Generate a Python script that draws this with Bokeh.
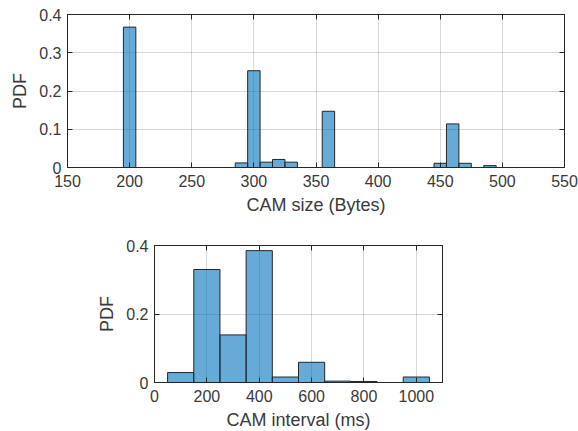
from bokeh.plotting import figure
from bokeh.layouts import column, row
from bokeh.models import LinearAxis, FixedTicker, Range1d
from bokeh.embed import file_html
from bokeh.resources import INLINE

# ---- data: CAM size histogram (bin width 10 bytes) ----
size_centers = [200, 290, 300, 310, 320, 330, 360, 450, 460, 470, 490]
size_pdf = [0.367, 0.012, 0.253, 0.014, 0.021, 0.014, 0.147, 0.011, 0.114, 0.011, 0.005]
size_bin_width = 10
size_xticks = [150, 200, 250, 300, 350, 400, 450, 500, 550]
size_yticks = [0, 0.1, 0.2, 0.3, 0.4]

# ---- data: CAM interval histogram (bin width 100 ms) ----
interval_centers = [100, 200, 300, 400, 500, 600, 700, 800, 900, 1000]
interval_pdf = [0.029, 0.330, 0.139, 0.385, 0.016, 0.059, 0.004, 0.003, 0.0, 0.016]
interval_bin_width = 100
interval_xticks = [0, 200, 400, 600, 800, 1000]
interval_yticks = [0, 0.2, 0.4]

FONT = "Liberation Sans"
TXT = "#3a3a3a"
AX = "#262626"
FILL = "#0072BD"
EDGE = "#262626"


def style(p, xticks, yticks, xlabel, ylabel, yfmt):
    p.xaxis.ticker = FixedTicker(ticks=xticks)
    p.yaxis.ticker = FixedTicker(ticks=yticks)
    p.yaxis.major_label_overrides = yfmt
    p.xaxis.axis_label = xlabel
    p.yaxis.axis_label = ylabel
    for ax in (p.xaxis[0], p.yaxis[0]):
        ax.axis_label_text_font = FONT
        ax.axis_label_text_font_size = "18px"
        ax.axis_label_text_font_style = "normal"
        ax.axis_label_text_color = TXT
        ax.major_label_text_font = FONT
        ax.major_label_text_font_size = "16px"
        ax.major_label_text_color = TXT
        ax.axis_line_color = AX
        ax.major_tick_line_color = AX
        ax.major_tick_in = 5
        ax.major_tick_out = 0
        ax.minor_tick_line_color = None
    p.xaxis.major_label_standoff = 7
    p.xaxis.axis_label_standoff = 5
    p.yaxis.major_label_standoff = 6
    p.yaxis.axis_label_standoff = 6
    # box ticks on top / right
    top = LinearAxis(ticker=FixedTicker(ticks=xticks), major_label_text_alpha=0,
                     major_label_text_font_size="1px",
                     axis_line_color=AX, major_tick_line_color=AX,
                     major_tick_in=5, major_tick_out=0, minor_tick_line_color=None,
                     major_label_standoff=0)
    right = LinearAxis(ticker=FixedTicker(ticks=yticks), major_label_text_alpha=0,
                       major_label_text_font_size="1px",
                       axis_line_color=AX, major_tick_line_color=AX,
                       major_tick_in=5, major_tick_out=0, minor_tick_line_color=None,
                       major_label_standoff=0)
    p.add_layout(top, "above")
    p.add_layout(right, "right")
    p.xgrid.ticker = FixedTicker(ticks=xticks)
    p.ygrid.ticker = FixedTicker(ticks=yticks)
    p.grid.grid_line_color = "#262626"
    p.grid.grid_line_alpha = 0.18
    p.grid.grid_line_width = 1
    p.outline_line_color = AX
    p.background_fill_color = "white"
    p.border_fill_color = "white"


# ---- top figure ----
p1 = figure(frame_width=497, frame_height=153, output_backend="svg", toolbar_location=None,
            x_range=Range1d(150, 550), y_range=Range1d(0, 0.4),
            min_border_left=67, min_border_right=14, min_border_top=14, min_border_bottom=53)
p1.quad(left=[c - size_bin_width / 2 for c in size_centers],
        right=[c + size_bin_width / 2 for c in size_centers],
        bottom=0, top=size_pdf,
        fill_color=FILL, fill_alpha=0.6, line_color=EDGE, line_width=1)
style(p1, size_xticks, size_yticks, "CAM size (Bytes)", "PDF", {0: "0"})

# ---- bottom figure ----
p2 = figure(frame_width=288, frame_height=137, output_backend="svg", toolbar_location=None,
            x_range=Range1d(0, 1100), y_range=Range1d(0, 0.4),
            min_border_left=154, min_border_right=136, min_border_top=25, min_border_bottom=49)
p2.quad(left=[c - interval_bin_width / 2 for c in interval_centers],
        right=[c + interval_bin_width / 2 for c in interval_centers],
        bottom=0, top=interval_pdf,
        fill_color=FILL, fill_alpha=0.6, line_color=EDGE, line_width=1)
style(p2, interval_xticks, interval_yticks, "CAM interval (ms)", "PDF", {0: "0"})

layout = column(row(p1), row(p2), spacing=0)
open("out.html", "w").write(file_html(layout, INLINE))
